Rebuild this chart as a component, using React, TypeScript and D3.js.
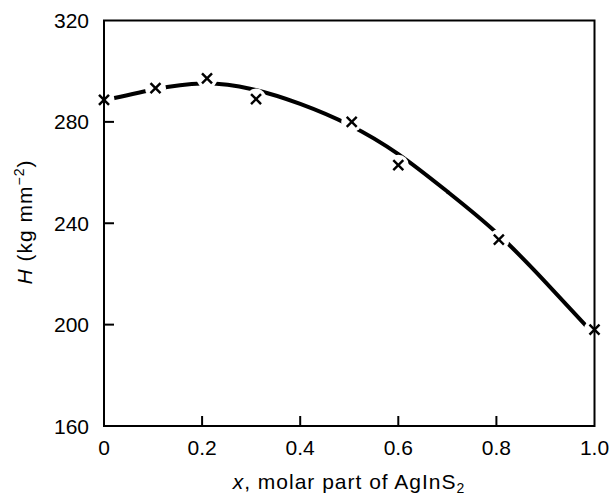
import React from "react";
import * as d3 from "d3";

const xTicks = [0, 0.2, 0.4, 0.6, 0.8, 1.0];
const xTickLabels = ["0", "0.2", "0.4", "0.6", "0.8", "1.0"];
const yTicks = [160, 200, 240, 280, 320];

// measured points (crosses)
const pointX = [0, 0.105, 0.21, 0.31, 0.505, 0.6, 0.805, 1.0];
const pointH = [288.7, 293.3, 297.2, 289.0, 280.0, 262.9, 233.5, 198.0];

// fitted curve
const curveX = [0, 0.1, 0.2, 0.3, 0.4, 0.5, 0.6, 0.7, 0.8, 0.9, 1.0];
const curveH = [288.5, 292.7, 295.1, 293.0, 287.1, 278.8, 267.3, 252.5, 236.3, 216.8, 196.0];

const W = 610;
const H = 495;
const left = 104;
const right = 594.5;
const top = 20.5;
const bottom = 426;

export default function App() {
  const x = d3.scaleLinear().domain([0, 1]).range([left, right]);
  const y = d3.scaleLinear().domain([160, 320]).range([bottom, top]);

  const line = d3
    .line<number>()
    .x((_, i) => x(curveX[i]))
    .y((d) => y(d))
    .curve(d3.curveNatural);
  const path = line(curveH) || "";

  const font = "'Liberation Sans', Arial, Helvetica, sans-serif";
  const s = 5;
  const fs = 21;

  return (
    <svg
      width={W}
      height={H}
      style={{ position: "absolute", left: 0, top: 0, background: "#fff" }}
      fontFamily={font}
    >
      <rect x={0} y={0} width={W} height={H} fill="#fff" />
      {/* curve */}
      <path d={path} fill="none" stroke="#000" strokeWidth={4} strokeLinecap="round" />
      {/* gaps around points */}
      {pointX.map((px, i) => (
        <circle key={"g" + i} cx={x(px)} cy={y(pointH[i])} r={10.5} fill="#fff" />
      ))}
      {/* frame */}
      <rect
        x={left}
        y={top}
        width={right - left}
        height={bottom - top}
        fill="none"
        stroke="#000"
        strokeWidth={2}
      />
      {/* y ticks */}
      {yTicks.map((t) => (
        <g key={"y" + t}>
          {t > 160 && t < 320 && (
            <line x1={left} x2={left + 10} y1={y(t)} y2={y(t)} stroke="#000" strokeWidth={2} />
          )}
          <text
            x={89}
            y={y(t)}
            textAnchor="end"
            dominantBaseline="central"
            fontSize={fs}
            fill="#000"
          >
            {t}
          </text>
        </g>
      ))}
      {/* x ticks */}
      {xTicks.map((t, i) => (
        <g key={"x" + t}>
          {t > 0 && t < 1 && (
            <line x1={x(t)} x2={x(t)} y1={bottom} y2={bottom - 10} stroke="#000" strokeWidth={2} />
          )}
          <text x={x(t)} y={455} textAnchor="middle" fontSize={fs} fill="#000">
            {xTickLabels[i]}
          </text>
        </g>
      ))}
      {/* markers */}
      {pointX.map((px, i) => {
        const cx = x(px);
        const cy = y(pointH[i]);
        return (
          <g key={"m" + i} stroke="#000" strokeWidth={2.4}>
            <line x1={cx - s} y1={cy - s} x2={cx + s} y2={cy + s} />
            <line x1={cx - s} y1={cy + s} x2={cx + s} y2={cy - s} />
          </g>
        );
      })}
      {/* x label */}
      <text x={349} y={489} textAnchor="middle" fontSize={fs} fill="#000" letterSpacing={1}>
        <tspan fontStyle="italic">x</tspan>
        <tspan>, molar part of AgInS</tspan>
        <tspan fontSize={14} dy={4}>2</tspan>
      </text>
      {/* y label */}
      <text
        transform={`translate(32,222) rotate(-90)`}
        textAnchor="middle"
        fontSize={fs}
        fill="#000"
        letterSpacing={1}
      >
        <tspan fontStyle="italic">H</tspan>
        <tspan> (kg mm</tspan>
        <tspan fontSize={14} dy={-8}>−2</tspan>
        <tspan dy={8}>)</tspan>
      </text>
    </svg>
  );
}
